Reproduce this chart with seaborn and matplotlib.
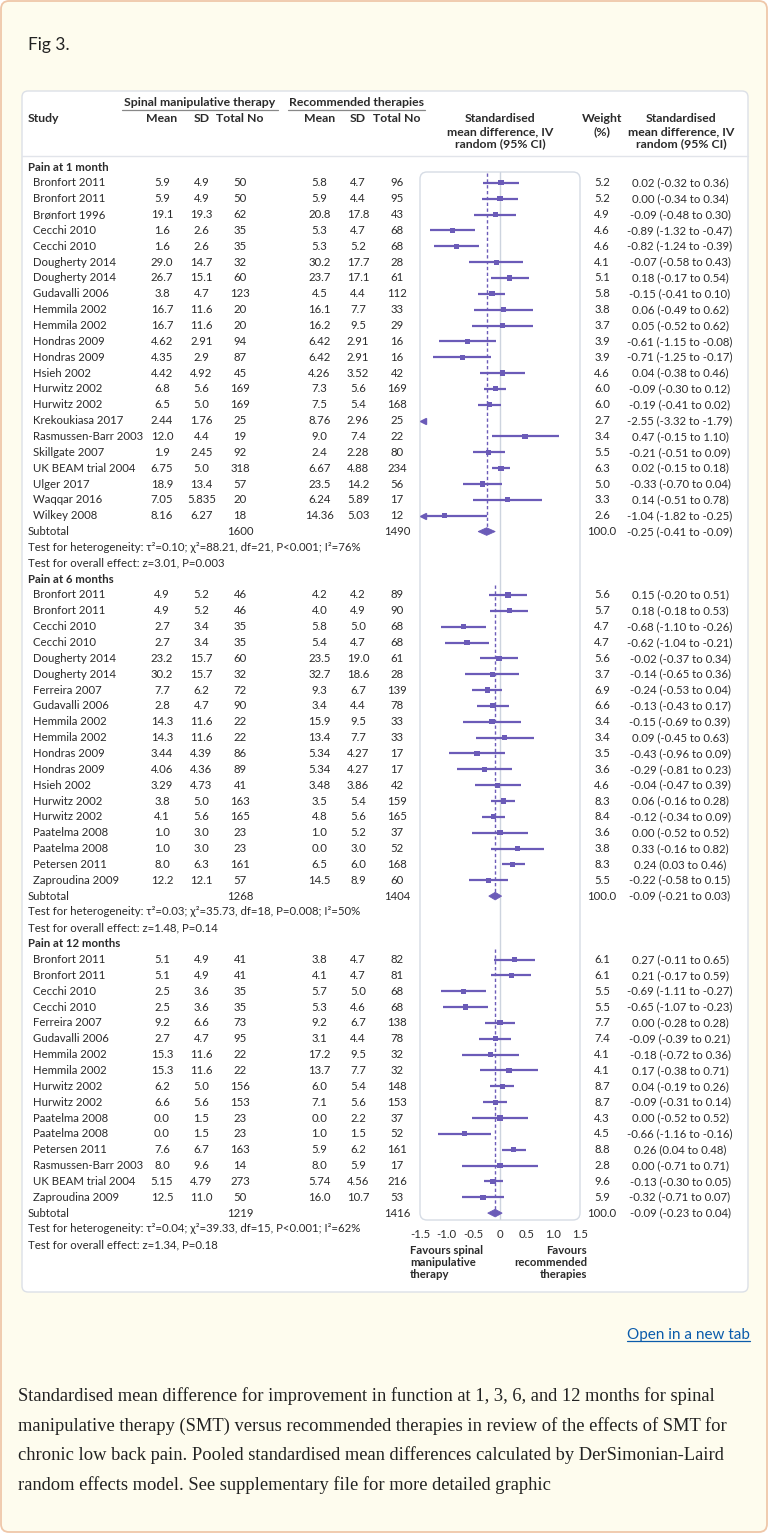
import numpy as np
import pandas as pd
import matplotlib
matplotlib.use("Agg")
import matplotlib.pyplot as plt
import seaborn as sns
from matplotlib.patches import FancyBboxPatch, Polygon
from matplotlib.transforms import blended_transform_factory

# ---------------- DATA ----------------
studies1 = ["Bronfort 2011", "Bronfort 2011", "Brønfort 1996", "Cecchi 2010", "Cecchi 2010",
            "Dougherty 2014", "Dougherty 2014", "Gudavalli 2006", "Hemmila 2002", "Hemmila 2002",
            "Hondras 2009", "Hondras 2009", "Hsieh 2002", "Hurwitz 2002", "Hurwitz 2002",
            "Krekoukiasa 2017", "Rasmussen-Barr 2003", "Skillgate 2007", "UK BEAM trial 2004",
            "Ulger 2017", "Waqqar 2016", "Wilkey 2008"]
smt_mean1 = ["5.9", "5.9", "19.1", "1.6", "1.6", "29.0", "26.7", "3.8", "16.7", "16.7", "4.62", "4.35",
             "4.42", "6.8", "6.5", "2.44", "12.0", "1.9", "6.75", "18.9", "7.05", "8.16"]
smt_sd1 = ["4.9", "4.9", "19.3", "2.6", "2.6", "14.7", "15.1", "4.7", "11.6", "11.6", "2.91", "2.9",
           "4.92", "5.6", "5.0", "1.76", "4.4", "2.45", "5.0", "13.4", "5.835", "6.27"]
smt_n1 = [50, 50, 62, 35, 35, 32, 60, 123, 20, 20, 94, 87, 45, 169, 169, 25, 19, 92, 318, 57, 20, 18]
rec_mean1 = ["5.8", "5.9", "20.8", "5.3", "5.3", "30.2", "23.7", "4.5", "16.1", "16.2", "6.42", "6.42",
             "4.26", "7.3", "7.5", "8.76", "9.0", "2.4", "6.67", "23.5", "6.24", "14.36"]
rec_sd1 = ["4.7", "4.4", "17.8", "4.7", "5.2", "17.7", "17.1", "4.4", "7.7", "9.5", "2.91", "2.91",
           "3.52", "5.6", "5.4", "2.96", "7.4", "2.28", "4.88", "14.2", "5.89", "5.03"]
rec_n1 = [96, 95, 43, 68, 68, 28, 61, 112, 33, 29, 16, 16, 42, 169, 168, 25, 22, 80, 234, 56, 17, 12]
weight1 = [5.2, 5.2, 4.9, 4.6, 4.6, 4.1, 5.1, 5.8, 3.8, 3.7, 3.9, 3.9, 4.6, 6.0, 6.0, 2.7, 3.4, 5.5,
           6.3, 5.0, 3.3, 2.6]
smd1 = [0.02, 0.00, -0.09, -0.89, -0.82, -0.07, 0.18, -0.15, 0.06, 0.05, -0.61, -0.71, 0.04, -0.09,
        -0.19, -2.55, 0.47, -0.21, 0.02, -0.33, 0.14, -1.04]
lo1 = [-0.32, -0.34, -0.48, -1.32, -1.24, -0.58, -0.17, -0.41, -0.49, -0.52, -1.15, -1.25, -0.38,
       -0.30, -0.41, -3.32, -0.15, -0.51, -0.15, -0.70, -0.51, -1.82]
hi1 = [0.36, 0.34, 0.30, -0.47, -0.39, 0.43, 0.54, 0.10, 0.62, 0.62, -0.08, -0.17, 0.46, 0.12, 0.02,
       -1.79, 1.10, 0.09, 0.18, 0.04, 0.78, -0.25]
subtotal1 = dict(smt_n=1600, rec_n=1490, est=-0.25, lo=-0.41, hi=-0.09)
het1 = "Test for heterogeneity: τ²=0.10; χ²=88.21, df=21, P<0.001; I²=76%"
overall1 = "Test for overall effect: z=3.01, P=0.003"

studies6 = ["Bronfort 2011", "Bronfort 2011", "Cecchi 2010", "Cecchi 2010", "Dougherty 2014",
            "Dougherty 2014", "Ferreira 2007", "Gudavalli 2006", "Hemmila 2002", "Hemmila 2002",
            "Hondras 2009", "Hondras 2009", "Hsieh 2002", "Hurwitz 2002", "Hurwitz 2002",
            "Paatelma 2008", "Paatelma 2008", "Petersen 2011", "Zaproudina 2009"]
smt_mean6 = ["4.9", "4.9", "2.7", "2.7", "23.2", "30.2", "7.7", "2.8", "14.3", "14.3", "3.44", "4.06",
             "3.29", "3.8", "4.1", "1.0", "1.0", "8.0", "12.2"]
smt_sd6 = ["5.2", "5.2", "3.4", "3.4", "15.7", "15.7", "6.2", "4.7", "11.6", "11.6", "4.39", "4.36",
           "4.73", "5.0", "5.6", "3.0", "3.0", "6.3", "12.1"]
smt_n6 = [46, 46, 35, 35, 60, 32, 72, 90, 22, 22, 86, 89, 41, 163, 165, 23, 23, 161, 57]
rec_mean6 = ["4.2", "4.0", "5.8", "5.4", "23.5", "32.7", "9.3", "3.4", "15.9", "13.4", "5.34", "5.34",
             "3.48", "3.5", "4.8", "1.0", "0.0", "6.5", "14.5"]
rec_sd6 = ["4.2", "4.9", "5.0", "4.7", "19.0", "18.6", "6.7", "4.4", "9.5", "7.7", "4.27", "4.27",
           "3.86", "5.4", "5.6", "5.2", "3.0", "6.0", "8.9"]
rec_n6 = [89, 90, 68, 68, 61, 28, 139, 78, 33, 33, 17, 17, 42, 159, 165, 37, 52, 168, 60]
weight6 = [5.6, 5.7, 4.7, 4.7, 5.6, 3.7, 6.9, 6.6, 3.4, 3.4, 3.5, 3.6, 4.6, 8.3, 8.4, 3.6, 3.8, 8.3, 5.5]
smd6 = [0.15, 0.18, -0.68, -0.62, -0.02, -0.14, -0.24, -0.13, -0.15, 0.09, -0.43, -0.29, -0.04, 0.06,
        -0.12, 0.00, 0.33, 0.24, -0.22]
lo6 = [-0.20, -0.18, -1.10, -1.04, -0.37, -0.65, -0.53, -0.43, -0.69, -0.45, -0.96, -0.81, -0.47,
       -0.16, -0.34, -0.52, -0.16, 0.03, -0.58]
hi6 = [0.51, 0.53, -0.26, -0.21, 0.34, 0.36, 0.04, 0.17, 0.39, 0.63, 0.09, 0.23, 0.39, 0.28, 0.09,
       0.52, 0.82, 0.46, 0.15]
subtotal6 = dict(smt_n=1268, rec_n=1404, est=-0.09, lo=-0.21, hi=0.03)
het6 = "Test for heterogeneity: τ²=0.03; χ²=35.73, df=18, P=0.008; I²=50%"
overall6 = "Test for overall effect: z=1.48, P=0.14"

studies12 = ["Bronfort 2011", "Bronfort 2011", "Cecchi 2010", "Cecchi 2010", "Ferreira 2007",
             "Gudavalli 2006", "Hemmila 2002", "Hemmila 2002", "Hurwitz 2002", "Hurwitz 2002",
             "Paatelma 2008", "Paatelma 2008", "Petersen 2011", "Rasmussen-Barr 2003",
             "UK BEAM trial 2004", "Zaproudina 2009"]
smt_mean12 = ["5.1", "5.1", "2.5", "2.5", "9.2", "2.7", "15.3", "15.3", "6.2", "6.6", "0.0", "0.0",
              "7.6", "8.0", "5.15", "12.5"]
smt_sd12 = ["4.9", "4.9", "3.6", "3.6", "6.6", "4.7", "11.6", "11.6", "5.0", "5.6", "1.5", "1.5",
            "6.7", "9.6", "4.79", "11.0"]
smt_n12 = [41, 41, 35, 35, 73, 95, 22, 22, 156, 153, 23, 23, 163, 14, 273, 50]
rec_mean12 = ["3.8", "4.1", "5.7", "5.3", "9.2", "3.1", "17.2", "13.7", "6.0", "7.1", "0.0", "1.0",
              "5.9", "8.0", "5.74", "16.0"]
rec_sd12 = ["4.7", "4.7", "5.0", "4.6", "6.7", "4.4", "9.5", "7.7", "5.4", "5.6", "2.2", "1.5",
            "6.2", "5.9", "4.56", "10.7"]
rec_n12 = [82, 81, 68, 68, 138, 78, 32, 32, 148, 153, 37, 52, 161, 17, 216, 53]
weight12 = [6.1, 6.1, 5.5, 5.5, 7.7, 7.4, 4.1, 4.1, 8.7, 8.7, 4.3, 4.5, 8.8, 2.8, 9.6, 5.9]
smd12 = [0.27, 0.21, -0.69, -0.65, 0.00, -0.09, -0.18, 0.17, 0.04, -0.09, 0.00, -0.66, 0.26, 0.00,
         -0.13, -0.32]
lo12 = [-0.11, -0.17, -1.11, -1.07, -0.28, -0.39, -0.72, -0.38, -0.19, -0.31, -0.52, -1.16, 0.04,
        -0.71, -0.30, -0.71]
hi12 = [0.65, 0.59, -0.27, -0.23, 0.28, 0.21, 0.36, 0.71, 0.26, 0.14, 0.52, -0.16, 0.48, 0.71,
        0.05, 0.07]
subtotal12 = dict(smt_n=1219, rec_n=1416, est=-0.09, lo=-0.23, hi=0.04)
het12 = "Test for heterogeneity: τ²=0.04; χ²=39.33, df=15, P<0.001; I²=62%"
overall12 = "Test for overall effect: z=1.34, P=0.18"

group_titles = ["Pain at 1 month", "Pain at 6 months", "Pain at 12 months"]
x_ticks = [-1.5, -1.0, -0.5, 0, 0.5, 1.0, 1.5]
x_tick_labels = ["-1.5", "-1.0", "-0.5", "0", "0.5", "1.0", "1.5"]

caption_lines = [
    "Standardised mean difference for improvement in function at 1, 3, 6, and 12 months for spinal",
    "manipulative therapy (SMT) versus recommended therapies in review of the effects of SMT for",
    "chronic low back pain. Pooled standardised mean differences calculated by DerSimonian-Laird",
    "random effects model. See supplementary file for more detailed graphic",
]

# ---------------- BUILD TABLE ----------------
groups = [
    (group_titles[0], studies1, smt_mean1, smt_sd1, smt_n1, rec_mean1, rec_sd1, rec_n1, weight1,
     smd1, lo1, hi1, subtotal1, het1, overall1),
    (group_titles[1], studies6, smt_mean6, smt_sd6, smt_n6, rec_mean6, rec_sd6, rec_n6, weight6,
     smd6, lo6, hi6, subtotal6, het6, overall6),
    (group_titles[2], studies12, smt_mean12, smt_sd12, smt_n12, rec_mean12, rec_sd12, rec_n12,
     weight12, smd12, lo12, hi12, subtotal12, het12, overall12),
]

study_rows, header_rows, subtotal_rows, note_rows = [], [], [], []
r = 0
for (title, st, sm, ss, sn, rm, rs, rn, w, e, l, h, sub, het, ov) in groups:
    header_rows.append((r, title)); r += 1
    first = r
    for i in range(len(st)):
        study_rows.append(dict(row=r, study=st[i], smt_mean=sm[i], smt_sd=ss[i], smt_n=sn[i],
                               rec_mean=rm[i], rec_sd=rs[i], rec_n=rn[i], weight=w[i],
                               smd=e[i], lo=l[i], hi=h[i]))
        r += 1
    subtotal_rows.append(dict(row=r, first=first, **sub)); r += 1
    note_rows.append((r, het)); r += 1
    note_rows.append((r, ov)); r += 1
df = pd.DataFrame(study_rows)

# ---------------- STYLE ----------------
sns.set_theme(style="white")
plt.rcParams['font.family'] = ['Lato', 'DejaVu Sans']
TXT = "#2b2b2b"
PURPLE = "#6b5bb8"
FS = 8.2
HFS = 8.8

W, H = 768, 1533
fig = plt.figure(figsize=(W / 100, H / 100), dpi=100)
fig.patch.set_facecolor("white")

canvas = fig.add_axes([0, 0, 1, 1])
canvas.set_xlim(0, W)
canvas.set_ylim(H, 0)
canvas.axis("off")
canvas.add_patch(FancyBboxPatch((1, 1), W - 2, H - 2, boxstyle="round,pad=0,rounding_size=8",
                                fc="#fefcee", ec="#efc7a9", lw=1.3))
canvas.add_patch(FancyBboxPatch((22, 91), 726, 1201, boxstyle="round,pad=0,rounding_size=6",
                                fc="white", ec="#dce0e7", lw=1.0))
canvas.plot([22, 748], [156, 156], color="#e1e4ea", lw=1.0)
canvas.add_patch(FancyBboxPatch((420, 172), 160, 1048, boxstyle="round,pad=0,rounding_size=7",
                                fc="none", ec="#d6dce5", lw=1.0))

# titles and headers
canvas.text(28, 45, "Fig 3.", fontsize=12.5, color="#222222", va="center", ha="left")
canvas.text(28, 119, "Study", fontsize=HFS, fontweight="bold", color=TXT, va="center")
canvas.text(200, 102, "Spinal manipulative therapy", fontsize=HFS, fontweight="bold", color=TXT,
            va="center", ha="center")
canvas.text(356.5, 102, "Recommended therapies", fontsize=HFS, fontweight="bold", color=TXT,
            va="center", ha="center")
canvas.plot([122, 278], [110, 110], color="#888888", lw=0.9)
canvas.plot([288, 425], [110, 110], color="#888888", lw=0.9)
for xc, lab in [(162, "Mean"), (201.5, "SD"), (240, "Total No"),
                (319.5, "Mean"), (358, "SD"), (397, "Total No")]:
    canvas.text(xc, 119, lab, fontsize=HFS, fontweight="bold", color=TXT, va="center", ha="center")
for yy, lab in [(119, "Standardised"), (131.5, "mean difference, IV"), (144, "random (95% CI)")]:
    canvas.text(500, yy, lab, fontsize=HFS, fontweight="bold", color=TXT, va="center", ha="center")
    canvas.text(681, yy, lab, fontsize=HFS, fontweight="bold", color=TXT, va="center", ha="center")
canvas.text(602, 119, "Weight", fontsize=HFS, fontweight="bold", color=TXT, va="center", ha="center")
canvas.text(602, 131.5, "(%)", fontsize=HFS, fontweight="bold", color=TXT, va="center", ha="center")

# ---------------- FOREST AXES ----------------
ROW0, ROWH = 167.0, 15.85
box_top, box_bot = 172.0, 1220.0
ax = fig.add_axes([420 / W, 1 - box_bot / H, 160 / W, (box_bot - box_top) / H])
ax.set_xlim(-1.5, 1.5)
ax.set_ylim((box_bot - ROW0) / ROWH, (box_top - ROW0) / ROWH)
ax.patch.set_alpha(0)
for s in ax.spines.values():
    s.set_visible(False)
ax.set_yticks([])
ax.set_xticks(x_ticks)
ax.set_xticklabels(x_tick_labels)
ax.tick_params(axis="x", length=0, pad=6.5, labelsize=FS, labelcolor=TXT)
ax.grid(False)
ax.axvline(0, color="#cdd4df", lw=1.0, zorder=1)

xmin = -1.5
# CI lines
inrange = df[df.hi > xmin]
ax.hlines(inrange.row, np.maximum(inrange.lo, xmin + 0.05), inrange.hi, color=PURPLE, lw=1.6, zorder=3)
# squares
sns.scatterplot(data=df[df.smd > xmin], x="smd", y="row", marker="s", s=14, color=PURPLE,
                edgecolor="none", ax=ax, zorder=4, legend=False)
# arrows for off-scale intervals
off = df[df.lo < xmin]
ax.plot(np.full(len(off), xmin + 0.06), off.row, linestyle="none", marker="<", ms=4.5,
        color=PURPLE, clip_on=False, zorder=4)
ax.set_xlabel("")
ax.set_ylabel("")

# diamonds and pooled dashed lines
for sub in subtotal_rows:
    rr = sub["row"]
    dh = 0.24
    ax.add_patch(Polygon([[sub["lo"], rr], [sub["est"], rr - dh], [sub["hi"], rr], [sub["est"], rr + dh]],
                         closed=True, fc=PURPLE, ec=PURPLE, lw=0.6, zorder=5))
    ax.vlines(sub["est"], sub["first"] - 0.65, rr, colors=PURPLE, lw=1.0,
              linestyles=(0, (2.4, 1.8)), zorder=2)

# ---------------- TABLE TEXT ----------------
tr = blended_transform_factory(fig.transFigure, ax.transData)
def T(xpx, row, s, ha="center", bold=False):
    ax.text(xpx / W, row, s, transform=tr, ha=ha, va="center", fontsize=FS, color=TXT,
            fontweight="bold" if bold else "normal", clip_on=False)

for row, title in header_rows:
    T(28, row, title, ha="left", bold=True)
for _, d in df.iterrows():
    T(33, d.row, d.study, ha="left")
    T(162, d.row, d.smt_mean)
    T(201.5, d.row, d.smt_sd)
    T(240, d.row, str(d.smt_n))
    T(319.5, d.row, d.rec_mean)
    T(358, d.row, d.rec_sd)
    T(397, d.row, str(d.rec_n))
    T(602, d.row, f"{d.weight:.1f}")
    T(680, d.row, f"{d.smd:.2f} ({d.lo:.2f} to {d.hi:.2f})")
for sub in subtotal_rows:
    rr = sub["row"]
    T(28, rr, "Subtotal", ha="left")
    T(240, rr, str(sub["smt_n"]))
    T(397, rr, str(sub["rec_n"]))
    T(602, rr, "100.0")
    T(680, rr, f"{sub['est']:.2f} ({sub['lo']:.2f} to {sub['hi']:.2f})")
for row, s in note_rows:
    T(28, row, s, ha="left")

# favours labels
for yy, lab in [(1251, "Favours spinal"), (1263, "manipulative"), (1275, "therapy")]:
    canvas.text(410, yy, lab, fontsize=FS, fontweight="bold", color=TXT, va="center", ha="left")
for yy, lab in [(1251, "Favours"), (1263, "recommended"), (1275, "therapies")]:
    canvas.text(587, yy, lab, fontsize=FS, fontweight="bold", color=TXT, va="center", ha="right")

# link and caption
link = canvas.text(750, 1335, "Open in a new tab", fontsize=11, color="#0b5cab", va="center", ha="right")
for i, line in enumerate(caption_lines):
    canvas.text(18, 1396 + 29.7 * i, line, fontsize=13.3, color="#222222", va="center", ha="left",
                family=["Liberation Serif", "DejaVu Serif"])

fig.canvas.draw()
bb = link.get_window_extent()
inv = canvas.transData.inverted()
(x0, y0), (x1, y1) = inv.transform([[bb.x0, bb.y0], [bb.x1, bb.y1]])
canvas.plot([x0, x1], [max(y0, y1) - 1, max(y0, y1) - 1], color="#0b5cab", lw=0.9)

fig.savefig("out.png", dpi=100, facecolor=fig.get_facecolor())
